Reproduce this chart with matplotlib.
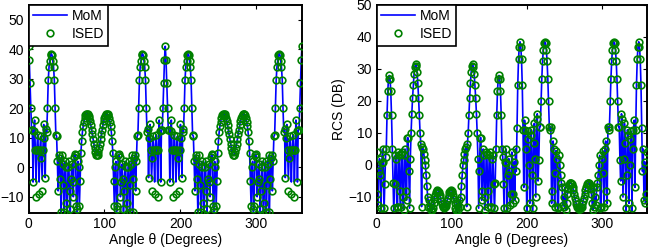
import numpy as np
import matplotlib
matplotlib.use("Agg")
import matplotlib.pyplot as plt

plt.rcParams['font.family'] = ['Liberation Sans', 'DejaVu Sans']

theta = np.arange(0, 361)

mom_left = [
    41, 36.5, 28.5, 20, 12.8, 12.5, -5, 12.3, 16, 6,
    -5, 6, 11, 6, -5, 6, 10.5, 3, -4, 6,
    14.5, 10, -3.5, 13, 12, 20, 29.5, 34, 36, 38,
    38.5, 38, 36, 34, 29.5, 20, 11, 10.5, 2, -8,
    4, 3, -4, -16.5, 4, 1, -6, -16.5, 2, 0,
    -12, -17, 0, 2, -8, -15, -4, 1, -5, -10,
    3.5, 4.5, 4, -13, -15, 2, 0, -13, -4.5, 5,
    9, 12, 14, 15.5, 16.8, 17.6, 18, 18.2, 18, 17.5,
    16.7, 15.6, 14.3, 12.8, 11.2, 9.6, 8, 6.5, 5.2, 4.3,
    4,
    4.3, 5.2, 6.5, 8, 9.6, 11.2, 12.8, 14.3, 15.6, 16.7,
    17.5, 18, 18.2, 18, 17.6, 16.8, 15.5, 14, 12, 9,
    5, -4.5, -13, 0, 2, -15, -13, 4, 4.5, 3.5,
    -10, -5, 1, -4, -15, -8, 2, 0, -17, -12,
    0, 2, -16.5, -6, 1, 4, -16.5, -4, 3, 4,
    -8, 2, 10.5, 11, 20, 29.5, 34, 36, 38, 38.5,
    38, 36, 34, 29.5, 20, 12, 13, -3.5, 10, 14.5,
    6, -4, 3, 10.5, 6, -5, 6, 11, 6, -5,
    6, 16, 12.3, -5, 12.5, 12.8, 20, 28.5, 36.5, 41,
    36.5, 28.5, 20, 12.8, 12.5, -5, 12.3, 16, 6,
    -5, 6, 11, 6, -5, 6, 10.5, 3, -4, 6,
    14.5, 10, -3.5, 13, 12, 20, 29.5, 34, 36, 38,
    38.5, 38, 36, 34, 29.5, 20, 11, 10.5, 2, -8,
    4, 3, -4, -16.5, 4, 1, -6, -16.5, 2, 0,
    -12, -17, 0, 2, -8, -15, -4, 1, -5, -10,
    3.5, 4.5, 4, -13, -15, 2, 0, -13, -4.5, 5,
    9, 12, 14, 15.5, 16.8, 17.6, 18, 18.2, 18, 17.5,
    16.7, 15.6, 14.3, 12.8, 11.2, 9.6, 8, 6.5, 5.2, 4.3,
    4,
    4.3, 5.2, 6.5, 8, 9.6, 11.2, 12.8, 14.3, 15.6, 16.7,
    17.5, 18, 18.2, 18, 17.6, 16.8, 15.5, 14, 12, 9,
    5, -4.5, -13, 0, 2, -15, -13, 4, 4.5, 3.5,
    -10, -5, 1, -4, -15, -8, 2, 0, -17, -12,
    0, 2, -16.5, -6, 1, 4, -16.5, -4, 3, 4,
    -8, 2, 10.5, 11, 20, 29.5, 34, 36, 38, 38.5,
    38, 36, 34, 29.5, 20, 12, 13, -3.5, 10, 14.5,
    6, -4, 3, 10.5, 6, -5, 6, 11, 6, -5,
    6, 16, 12.3, -5, 12.5, 12.8, 20, 28.5, 36.5, 41,
]

ised_left = [
    41, 36.5, 28.5, 20, 12.8, 12.5, -5, 12.3, 16, 6,
    -10, 6, 11, 6, -9, 6, 10.5, 3, -8, 6,
    14.5, 10, -3.5, 13, 12, 20, 29.5, 34, 36, 38,
    38.5, 38, 36, 34, 29.5, 20, 11, 10.5, 2, -8,
    4, 3, -4, -15, 4, 1, -6, -15, 2, 0,
    -12, -16, 0, 2, -8, -14, -4, 1, -5, -10,
    3.5, 4.5, 4, -13, -14, 2, 0, -13, -4.5, 5,
    9, 12, 14, 15.5, 16.8, 17.6, 18, 18.2, 18, 17.5,
    16.7, 15.6, 14.3, 12.8, 11.2, 9.6, 8, 6.5, 5.2, 4.3,
    4,
    4.3, 5.2, 6.5, 8, 9.6, 11.2, 12.8, 14.3, 15.6, 16.7,
    17.5, 18, 18.2, 18, 17.6, 16.8, 15.5, 14, 12, 9,
    5, -4.5, -13, 0, 2, -14, -13, 4, 4.5, 3.5,
    -10, -5, 1, -4, -14, -8, 2, 0, -16, -12,
    0, 2, -15, -6, 1, 4, -15, -4, 3, 4,
    -8, 2, 10.5, 11, 20, 29.5, 34, 36, 38, 38.5,
    38, 36, 34, 29.5, 20, 12, 13, -3.5, 10, 14.5,
    6, -8, 3, 10.5, 6, -9, 6, 11, 6, -10,
    6, 16, 12.3, -5, 12.5, 12.8, 20, 28.5, 36.5, 41,
    36.5, 28.5, 20, 12.8, 12.5, -5, 12.3, 16, 6,
    -10, 6, 11, 6, -9, 6, 10.5, 3, -8, 6,
    14.5, 10, -3.5, 13, 12, 20, 29.5, 34, 36, 38,
    38.5, 38, 36, 34, 29.5, 20, 11, 10.5, 2, -8,
    4, 3, -4, -15, 4, 1, -6, -15, 2, 0,
    -12, -16, 0, 2, -8, -14, -4, 1, -5, -10,
    3.5, 4.5, 4, -13, -14, 2, 0, -13, -4.5, 5,
    9, 12, 14, 15.5, 16.8, 17.6, 18, 18.2, 18, 17.5,
    16.7, 15.6, 14.3, 12.8, 11.2, 9.6, 8, 6.5, 5.2, 4.3,
    4,
    4.3, 5.2, 6.5, 8, 9.6, 11.2, 12.8, 14.3, 15.6, 16.7,
    17.5, 18, 18.2, 18, 17.6, 16.8, 15.5, 14, 12, 9,
    5, -4.5, -13, 0, 2, -14, -13, 4, 4.5, 3.5,
    -10, -5, 1, -4, -14, -8, 2, 0, -16, -12,
    0, 2, -15, -6, 1, 4, -15, -4, 3, 4,
    -8, 2, 10.5, 11, 20, 29.5, 34, 36, 38, 38.5,
    38, 36, 34, 29.5, 20, 12, 13, -3.5, 10, 14.5,
    6, -8, 3, 10.5, 6, -9, 6, 11, 6, -10,
    6, 16, 12.3, -5, 12.5, 12.8, 20, 28.5, 36.5, 41,
]

mom_right = [
    4, -9, -12.5, -2, 2, -3, -15, 0.5, 5, 1,
    -15, -6, 2.5, 5, 15.5, 23, 27, 28, 27, 23,
    15.5, 5, -5.5, -15, -6, 3, 2, -13, -13, 4,
    3, -8, -13, 3.5, 4, -10, -14, 3, 5, -8,
    -11, 8.5, 8.5, -2, -13.5, 2, 10, 16, 21, 25,
    28.5, 30.5, 31.5, 31, 29, 25.5, 21, 15.5, 10, 6.5,
    -13, 5.5, 5, 3.5, 1.5, 0, -3, -6.5, -10, -13,
    -11, -13, -15, -12, -14, -13.5, -12, -10.5, -9.3, -8.5,
    -8, -7.8, -8, -8.5, -9.3, -10.3, -11.3, -12.2, -12.8, -13.2,
    -13.3,
    -13.2, -12.8, -12.2, -11.3, -10.3, -9.3, -8.5, -8, -7.8, -8,
    -8.5, -9.3, -10.5, -12, -13.5, -14, -12, -15, -13, -11,
    -13, -10, -6.5, -3, 0, 1.5, 3.5, 5, 5.5, -13,
    6.5, 10, 15.5, 21, 25.5, 29, 31, 31.5, 30.5, 28.5,
    25, 21, 16, 10, 2, -13.5, -2, 8.5, 8.5, -11,
    -8, 5, 3, -14, -10, 4, 3.5, -13, -8, 3,
    4, -13, -13, 2, 3, -6, -15, -5.5, 5, 15.5,
    23, 27, 28, 27, 23, 15.5, 5, 2.5, -6, -15,
    1, 5, 0.5, -15, -3, 2, -2, -12.5, -9, 4,
    -9, -12, 1, -11, 5, -2, 11.5, 25, 33, 37,
    38.5, 37, 33, 25, 11, -7, 14, 11, 5, -15,
    10.5, 8, 0, -12, 9.5, 11, -3, -15, 7, 13,
    2, -10, 14.5, 16, -5, 1.5, 12, 12, 20, 27,
    32.5, 36, 38, 38.5, 38, 36, 32.5, 27, 20, 12,
    11, 12, -12, -8, 7.5, 5, -13, -2.5, 4.5, 2,
    -13, -15, 3, 0, -3, -5.5, -7, -12.5, -10, -13,
    -7, -14, -12, -9, -7.5, -6.3, -5.7, -5.5, -5.6, -6,
    -6.8, -7.8, -9, -10.2, -11.3, -12.3, -13, -13.4, -13.6, -13.7,
    -13.6, -13.4, -13, -12.3, -11.3, -10.2, -9, -7.8, -6.8, -6,
    -5.6, -5.5, -5.7, -6.3, -7.5, -9, -12, -14, -7, -13,
    -10, -12.5, -7, -5.5, -3, 0, 3, -15, -13, 2,
    4.5, -2.5, -13, 5, 7.5, -8, -12, 12, 11, 12,
    20, 27, 32.5, 36, 38, 38.5, 38, 36, 32.5, 27,
    20, 12, 12, 1.5, -5, 16, 14.5, -10, 2, 13,
    7, -15, -3, 11, 9.5, -12, 0, 8, 10.5, -15,
    5, 11, 14, -7, 11, 25, 33, 37, 38.5, 37,
    33, 25, 11.5, -2, 5, -11, 1, -12, -9, 4,
]

ised_right = [
    4, -9, -12.5, -2, 2, -3, -13.5, 0.5, 5, 1,
    -13.5, -6, 2.5, 5, 15.5, 23, 27, 28, 27, 23,
    15.5, 5, -5.5, -13.5, -6, 3, 2, -13, -13, 4,
    3, -8, -13, 3.5, 4, -10, -14, 3, 5, -8,
    -11, 8.5, 8.5, -2, -13.5, 2, 10, 16, 21, 25,
    28.5, 30.5, 31.5, 31, 29, 25.5, 21, 15.5, 10, 6.5,
    -13, 5.5, 5, 3.5, 1.5, 0, -3, -6.5, -10, -13,
    -11, -13, -14, -12, -14, -13.5, -12, -10.5, -9.3, -8.5,
    -8, -7.8, -8, -8.5, -9.3, -10.3, -11.3, -12.2, -12.8, -13.2,
    -13.3,
    -13.2, -12.8, -12.2, -11.3, -10.3, -9.3, -8.5, -8, -7.8, -8,
    -8.5, -9.3, -10.5, -12, -13.5, -14, -12, -14, -13, -11,
    -13, -10, -6.5, -3, 0, 1.5, 3.5, 5, 5.5, -13,
    6.5, 10, 15.5, 21, 25.5, 29, 31, 31.5, 30.5, 28.5,
    25, 21, 16, 10, 2, -13.5, -2, 8.5, 8.5, -11,
    -8, 5, 3, -14, -10, 4, 3.5, -13, -8, 3,
    4, -13, -13, 2, 3, -6, -13.5, -5.5, 5, 15.5,
    23, 27, 28, 27, 23, 15.5, 5, 2.5, -6, -13.5,
    1, 5, 0.5, -13.5, -3, 2, -2, -12.5, -9, 4,
    -9, -12, 1, -11, 5, -2, 11.5, 25, 33, 37,
    38.5, 37, 33, 25, 11, -7, 14, 11, 5, -13.5,
    10.5, 8, 0, -12, 9.5, 11, -3, -13.5, 7, 13,
    2, -10, 14.5, 16, -5, 1.5, 12, 12, 20, 27,
    32.5, 36, 38, 38.5, 38, 36, 32.5, 27, 20, 12,
    11, 12, -12, -8, 7.5, 5, -13, -2.5, 4.5, 2,
    -13, -13.5, 3, 0, -3, -5.5, -7, -12.5, -10, -13,
    -7, -14, -12, -9, -7.5, -6.3, -5.7, -5.5, -5.6, -6,
    -6.8, -7.8, -9, -10.2, -11.3, -12.3, -13, -13.4, -13.6, -13.7,
    -13.6, -13.4, -13, -12.3, -11.3, -10.2, -9, -7.8, -6.8, -6,
    -5.6, -5.5, -5.7, -6.3, -7.5, -9, -12, -14, -7, -13,
    -10, -12.5, -7, -5.5, -3, 0, 3, -13.5, -13, 2,
    4.5, -2.5, -13, 5, 7.5, -8, -12, 12, 11, 12,
    20, 27, 32.5, 36, 38, 38.5, 38, 36, 32.5, 27,
    20, 12, 12, 1.5, -5, 16, 14.5, -10, 2, 13,
    7, -13.5, -3, 11, 9.5, -12, 0, 8, 10.5, -13.5,
    5, 11, 14, -7, 11, 25, 33, 37, 38.5, 37,
    33, 25, 11.5, -2, 5, -11, 1, -12, -9, 4,
]

assert len(mom_left) == 361, len(mom_left)
assert len(ised_left) == 361, len(ised_left)
assert len(mom_right) == 361, len(mom_right)
assert len(ised_right) == 361, len(ised_right)

x_ticks = [0, 100, 200, 300]
y_ticks = [-10, 0, 10, 20, 30, 40, 50]
series_names = ["MoM", "ISED"]
x_label = "Angle θ (Degrees)"
y_label_right = "RCS (DB)"

W, H = 652, 250
fig = plt.figure(figsize=(W / 100, H / 100), dpi=100)
ax1 = fig.add_axes([28.5 / W, 37 / H, 273.5 / W, 208 / H])
ax2 = fig.add_axes([376.5 / W, 37 / H, 270.5 / W, 208 / H])

FS = 10
for ax, mom, ised, ylim in [(ax1, mom_left, ised_left, (-15.5, 55)),
                            (ax2, mom_right, ised_right, (-15, 50))]:
    ax.plot(theta, mom, color='#0000ff', lw=1.2, label=series_names[0], zorder=2)
    ax.plot(theta, ised, linestyle='none', marker='o', markersize=4.8,
            markerfacecolor='none', markeredgecolor='#008000', markeredgewidth=1.2,
            label=series_names[1], zorder=3)
    ax.set_xlim(0, 360)
    ax.set_ylim(*ylim)
    ax.set_xticks(x_ticks)
    ax.set_yticks(y_ticks)
    ax.tick_params(direction='in', top=True, right=True, length=3, width=0.8,
                   labelsize=FS, pad=3)
    for sp in ax.spines.values():
        sp.set_linewidth(1.4)
    ax.set_xlabel(x_label, fontsize=FS, labelpad=1)
    leg = ax.legend(loc='upper left', fontsize=FS, frameon=True, fancybox=False,
                    borderaxespad=0.0, handlelength=2.5, handletextpad=0.3,
                    borderpad=0.3, labelspacing=0.3, framealpha=1)
    leg.get_frame().set_edgecolor('black')
    leg.get_frame().set_linewidth(1.2)

ax2.set_ylabel(y_label_right, fontsize=FS, labelpad=2)

fig.savefig("out.png", dpi=100)
